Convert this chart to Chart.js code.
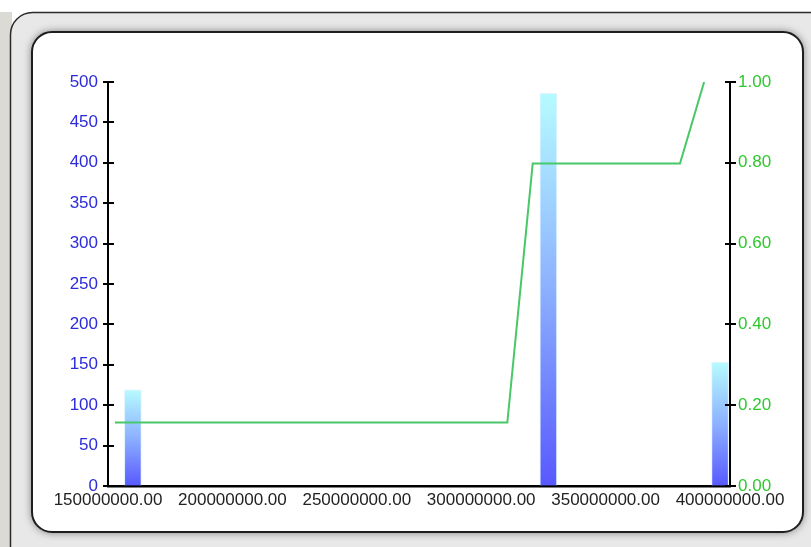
<!DOCTYPE html>
<html>
<head>
<meta charset="utf-8">
<script src="https://cdn.jsdelivr.net/npm/chart.js@4/dist/chart.umd.min.js"></script>
<style>
  html, body { margin: 0; padding: 0; background: #fff; }
  canvas { display: block; }
</style>
</head>
<body>
<canvas id="chart" width="811" height="547"></canvas>
<script>
// values
const xTicks = [150000000, 200000000, 250000000, 300000000, 350000000, 400000000];
const barX = [160000000, 327000000, 396000000];
const barValues = [119, 486, 153];
const lineX = [152800000, 310500000, 320700000, 379900000, 389600000];
const lineValues = [0.157, 0.157, 0.798, 0.798, 1.0];
const leftTicks = [0, 50, 100, 150, 200, 250, 300, 350, 400, 450, 500];
const rightTicks = [0, 0.2, 0.4, 0.6, 0.8, 1.0];

const FONT = 'Liberation Sans, Arial, sans-serif';

// grey bevelled panel behind the chart
const framePlugin = {
  id: 'frame',
  beforeDraw(chart) {
    const ctx = chart.ctx;
    ctx.save();
    ctx.fillStyle = '#fff';
    ctx.fillRect(0, 0, chart.width, chart.height);
    ctx.fillStyle = '#dcdad5';
    ctx.fillRect(0, 12, 12, chart.height);

    ctx.beginPath();
    ctx.roundRect(10.5, 12.5, 830, 560, 22);
    ctx.fillStyle = '#e8e8e8';
    ctx.fill();
    ctx.lineWidth = 1.5;
    ctx.strokeStyle = '#2a2a2a';
    ctx.stroke();

    ctx.beginPath();
    ctx.roundRect(32, 32, 771, 500, 20);
    ctx.shadowColor = 'rgba(0,0,0,0.55)';
    ctx.shadowBlur = 9;
    ctx.fillStyle = '#fff';
    ctx.fill();
    ctx.shadowBlur = 0;
    ctx.shadowColor = 'transparent';
    ctx.lineWidth = 2;
    ctx.strokeStyle = '#1e1e1e';
    ctx.stroke();
    ctx.restore();
  }
};

// tick marks crossing the vertical axes
const crossTicks = {
  id: 'crossTicks',
  afterDatasetsDraw(chart) {
    const ctx = chart.ctx;
    ctx.save();
    ctx.strokeStyle = '#000';
    ctx.lineWidth = 2;
    ['y', 'y1'].forEach(id => {
      const s = chart.scales[id];
      const ax = id === 'y' ? chart.chartArea.left : chart.chartArea.right;
      s.ticks.forEach(t => {
        const py = Math.round(s.getPixelForValue(t.value));
        ctx.beginPath();
        ctx.moveTo(ax - 5, py);
        ctx.lineTo(ax + 6, py);
        ctx.stroke();
      });
    });
    ctx.restore();
  }
};

function barFill(c) {
  const chart = c.chart;
  if (!chart.chartArea || !c.raw) return '#6a6aff';
  const s = chart.scales.y;
  const top = s.getPixelForValue(c.raw.y);
  const base = s.getPixelForValue(0);
  const g = chart.ctx.createLinearGradient(0, top, 0, base);
  g.addColorStop(0, '#b6fbff');
  g.addColorStop(0.5, '#8cb0ff');
  g.addColorStop(1, '#5858ff');
  return g;
}

new Chart(document.getElementById('chart'), {
  data: {
    datasets: [
      {
        type: 'line',
        data: lineX.map((x, i) => ({ x: x, y: lineValues[i] })),
        yAxisID: 'y1',
        borderColor: '#48c868',
        borderWidth: 2,
        pointRadius: 0,
        tension: 0,
        order: 0
      },
      {
        type: 'bar',
        data: barX.map((x, i) => ({ x: x, y: barValues[i] })),
        yAxisID: 'y',
        backgroundColor: barFill,
        borderColor: 'rgba(210,240,255,0.7)',
        borderWidth: 1,
        borderSkipped: 'bottom',
        barThickness: 17,
        order: 1
      }
    ]
  },
  options: {
    responsive: false,
    animation: false,
    devicePixelRatio: 1,
    layout: { padding: { left: 40, right: 11, top: 82, bottom: 35 } },
    plugins: { legend: { display: false }, tooltip: { enabled: false } },
    scales: {
      x: {
        type: 'linear',
        offset: false,
        min: 150000000,
        max: 400000000,
        afterBuildTicks: s => { s.ticks = xTicks.map(v => ({ value: v })); },
        afterFit: s => { s.height = 26; },
        grid: { display: true, offset: false, drawOnChartArea: false, drawTicks: false },
        border: { display: true, color: '#000', width: 2.5 },
        ticks: {
          autoSkip: false,
          maxRotation: 0,
          padding: 4,
          color: '#222',
          font: { family: FONT, size: 17 },
          callback: v => Number(v).toFixed(2)
        }
      },
      y: {
        position: 'left',
        min: 0,
        max: 500,
        afterBuildTicks: s => { s.ticks = leftTicks.map(v => ({ value: v })); },
        afterFit: s => { s.width = 68; },
        grid: { display: true, drawOnChartArea: false, drawTicks: false },
        border: { display: true, color: '#000', width: 2 },
        ticks: {
          padding: 10,
          color: '#2b2bdc',
          font: { family: FONT, size: 17 },
          callback: v => String(v)
        }
      },
      y1: {
        position: 'right',
        min: 0,
        max: 1,
        afterBuildTicks: s => { s.ticks = rightTicks.map(v => ({ value: v })); },
        afterFit: s => { s.width = 70; },
        grid: { display: true, drawOnChartArea: false, drawTicks: false },
        border: { display: true, color: '#000', width: 2 },
        ticks: {
          padding: 8,
          color: '#2ec82e',
          font: { family: FONT, size: 17 },
          callback: v => Number(v).toFixed(2)
        }
      }
    }
  },
  plugins: [framePlugin, crossTicks]
});
</script>
</body>
</html>
